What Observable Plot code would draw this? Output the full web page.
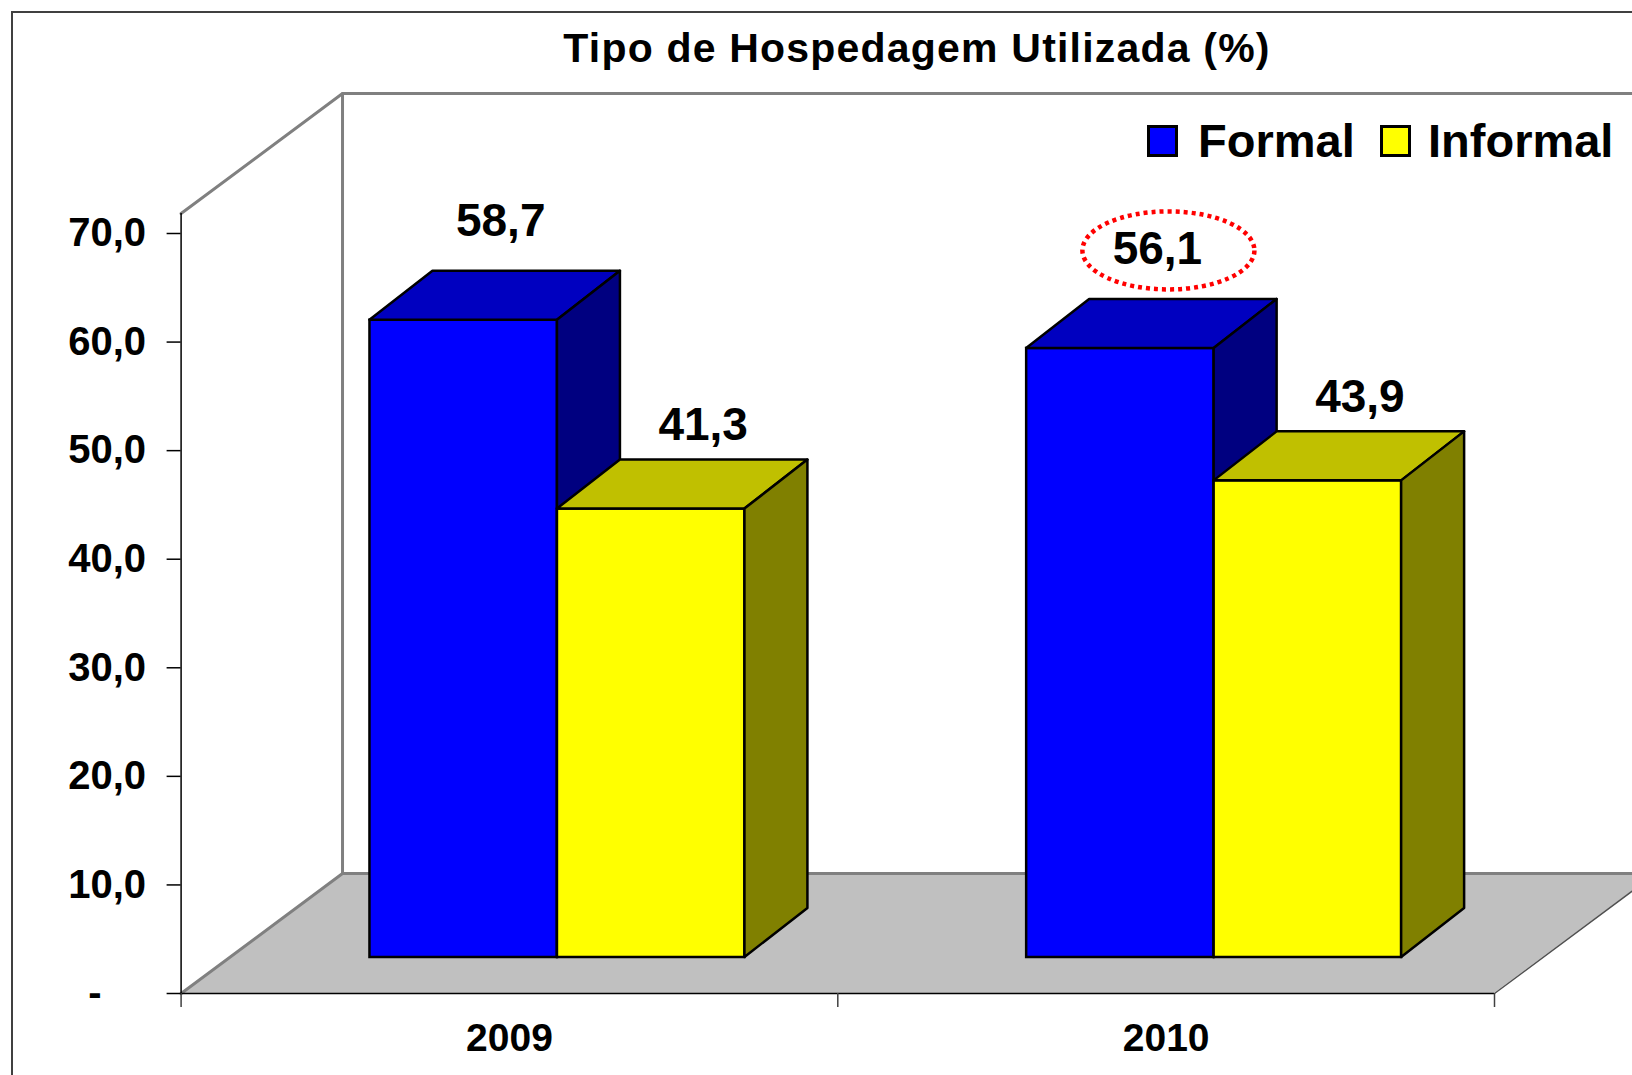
<!DOCTYPE html>
<html>
<head>
<meta charset="utf-8">
<script src="https://cdn.jsdelivr.net/npm/d3@7"></script>
<script src="https://cdn.jsdelivr.net/npm/@observablehq/plot@0.6"></script>
<style>
  html, body { margin: 0; padding: 0; background: #fff; }
  body { font-family: "Liberation Sans", Arial, sans-serif; }
  #wrap { position: relative; width: 1632px; height: 1075px; overflow: hidden; background: #fff; }
  #frame { position: absolute; left: 11px; top: 11px; width: 1700px; height: 1200px; border: 2px solid #404040; box-sizing: border-box; }
  #chart { position: absolute; left: 0; top: 0; }
  #title { position: absolute; left: 917px; top: 28px; transform: translateX(-50%); white-space: nowrap;
           font-size: 41px; line-height: 41px; font-weight: bold; letter-spacing: 1.2px; color: #000; }
  .sw { position: absolute; width: 31px; height: 32px; border: 3px solid #000; box-sizing: border-box; }
  .lt { position: absolute; font-size: 47px; line-height: 47px; font-weight: bold; color: #000; white-space: nowrap; }
</style>
</head>
<body>
<div id="wrap">
  <div id="frame"></div>
  <div id="chart"></div>
  <div id="title"></div>
  <div id="legend"></div>
</div>
<script>
// ---- data ----
const titleText = "Tipo de Hospedagem Utilizada (%)";
const years = ["2009", "2010"];
const seriesNames = ["Formal", "Informal"];
const formalValues = [58.7, 56.1];
const informalValues = [41.3, 43.9];
const yTicks = [0, 10, 20, 30, 40, 50, 60, 70];
const highlight = { year: "2010", series: "Formal" };

// ---- styles / geometry constants ----
const frontColors = { Formal: "#0000FF", Informal: "#FFFF00" };
const topColors = { Formal: "#0000C0", Informal: "#C0C000" };
const sideColors = { Formal: "#000080", Informal: "#808000" };
const W = 0.2855;          // bar width (x units)
const bx = 0.0959, by = 4.513;   // bar depth (x units, y units)
const barDx = 48, barDy = -36;   // bar plane offset (px)
const Dx = 0.2458, Dy = 11.05;   // full floor depth
const wallTop = 71.84;
const labelOffset = { Formal: { dx: 85, dy: -135 }, Informal: { dx: 100, dy: -120 } };

const valuesBySeries = { Formal: formalValues, Informal: informalValues };
const fmt = v => d3.format(".1f")(v).replace(".", ",");

const bars = years.flatMap((year, i) => seriesNames.map((series, j) => {
  const x1 = i + 0.5 - W + j * W;
  return { key: year + series, year, series, value: valuesBySeries[series][i], x1, x2: x1 + W };
}));

const topRows = bars.flatMap(b => [
  { key: b.key, series: b.series, y: b.value, x1: b.x1, x2: b.x2 },
  { key: b.key, series: b.series, y: b.value + by, x1: b.x1 + bx, x2: b.x2 + bx }
]);
const sideRows = bars.flatMap(b => [
  { key: b.key, series: b.series, x: b.x2, y1: 0, y2: b.value },
  { key: b.key, series: b.series, x: b.x2 + bx, y1: by, y2: b.value + by }
]);

const floorRows = [{ y: 0, x1: 0, x2: 2 }, { y: Dy, x1: Dx, x2: 2 + Dx }];
const wallEdges = [
  { k: "top", pts: [[0, wallTop], [Dx, wallTop + Dy], [2 + Dx + 0.2, wallTop + Dy]] },
  { k: "back", pts: [[Dx, Dy], [Dx, wallTop + Dy]] },
  { k: "floorBack", pts: [[Dx, Dy], [2 + Dx + 0.2, Dy]] },
  { k: "floorLeft", pts: [[0, 0], [Dx, Dy]] }
].flatMap(e => e.pts.map(p => ({ k: e.k, x: p[0], y: p[1] })));
const rightEdge = [{ x: 2, y: 0 }, { x: 2 + Dx, y: Dy }];

const ellipseSymbol = {
  draw(ctx) {
    const rx = 86, ry = 39, k = 0.5523;
    ctx.moveTo(rx, 0);
    ctx.bezierCurveTo(rx, ry * k, rx * k, ry, 0, ry);
    ctx.bezierCurveTo(-rx * k, ry, -rx, ry * k, -rx, 0);
    ctx.bezierCurveTo(-rx, -ry * k, -rx * k, -ry, 0, -ry);
    ctx.bezierCurveTo(rx * k, -ry, rx, -ry * k, rx, 0);
    ctx.closePath();
  }
};

const barMarks = seriesNames.flatMap(s => [
  Plot.rect(bars.filter(b => b.series === s), {
    x1: "x1", x2: "x2", y1: () => 0, y2: "value", dx: barDx, dy: barDy,
    fill: frontColors[s], stroke: "#000", strokeWidth: 2.5
  }),
  Plot.areaX(topRows.filter(r => r.series === s), {
    y: "y", x1: "x1", x2: "x2", z: "key", dx: barDx, dy: barDy,
    fill: topColors[s], stroke: "#000", strokeWidth: 2.5, strokeLinejoin: "round"
  }),
  Plot.areaY(sideRows.filter(r => r.series === s), {
    x: "x", y1: "y1", y2: "y2", z: "key", dx: barDx, dy: barDy,
    fill: sideColors[s], stroke: "#000", strokeWidth: 2.5, strokeLinejoin: "round"
  })
]);

const labelMarks = seriesNames.map(s => Plot.text(bars.filter(b => b.series === s), {
  x: b => (b.x1 + b.x2) / 2, y: "value", text: b => fmt(b.value),
  dx: labelOffset[s].dx, dy: labelOffset[s].dy,
  fontSize: 46, fontWeight: "bold", fill: "#000"
}));

const hl = bars.filter(b => b.year === highlight.year && b.series === highlight.series);

const plot = Plot.plot({
  width: 1632, height: 1075,
  marginLeft: 180.6, marginRight: 138, marginTop: 233, marginBottom: 82,
  x: { domain: [0, 2] },
  y: { domain: [0, 70] },
  style: { background: "transparent", overflow: "visible", fontFamily: "'Liberation Sans', Arial, sans-serif", color: "#000" },
  marks: [
    Plot.areaX(floorRows, { y: "y", x1: "x1", x2: "x2", fill: "#C0C0C0" }),
    Plot.line(wallEdges, { x: "x", y: "y", z: "k", stroke: "#808080", strokeWidth: 3, strokeLinejoin: "miter" }),
    Plot.line(rightEdge, { x: "x", y: "y", stroke: "#505050", strokeWidth: 1.5 }),
    Plot.ruleY([0], { x1: 0, x2: 2, stroke: "#000", strokeWidth: 1.5 }),
    Plot.ruleX([0], { y1: wallTop, y2: 0, stroke: "#000", strokeWidth: 1.5 }),
    Plot.axisX({ ticks: [0, 1, 2], tickSize: 14, tickFormat: () => "", label: null, stroke: "#404040", strokeWidth: 1.5 }),
    Plot.axisY({
      ticks: yTicks, tickSize: 14, tickPadding: 21, label: null,
      tickFormat: v => v === 0 ? "-" + "\u00a0".repeat(4) : fmt(v),
      fontSize: 40, fontWeight: "bold", stroke: "#000", strokeWidth: 1.5
    }),
    Plot.text(years, { x: (d, i) => i + 0.5, y: () => 0, text: d => d, dy: 45, fontSize: 39, fontWeight: "bold", fill: "#000" }),
    ...barMarks,
    ...labelMarks,
    Plot.dot(hl, {
      x: b => (b.x1 + b.x2) / 2, y: "value", dx: 96, dy: -134, r: 10,
      symbol: ellipseSymbol, fill: "none", stroke: "#FF0000", strokeWidth: 4.5, strokeDasharray: "4 4"
    })
  ]
});
document.getElementById("chart").appendChild(plot);

document.getElementById("title").textContent = titleText;

const legend = document.getElementById("legend");
const legendPos = [{ sw: 1147, tx: 1198 }, { sw: 1380, tx: 1428 }];
seriesNames.forEach((s, i) => {
  const sw = document.createElement("div");
  sw.className = "sw";
  sw.style.left = legendPos[i].sw + "px";
  sw.style.top = "125px";
  sw.style.background = frontColors[s];
  legend.appendChild(sw);
  const t = document.createElement("div");
  t.className = "lt";
  t.style.left = legendPos[i].tx + "px";
  t.style.top = "117px";
  t.textContent = s;
  legend.appendChild(t);
});
</script>
</body>
</html>
